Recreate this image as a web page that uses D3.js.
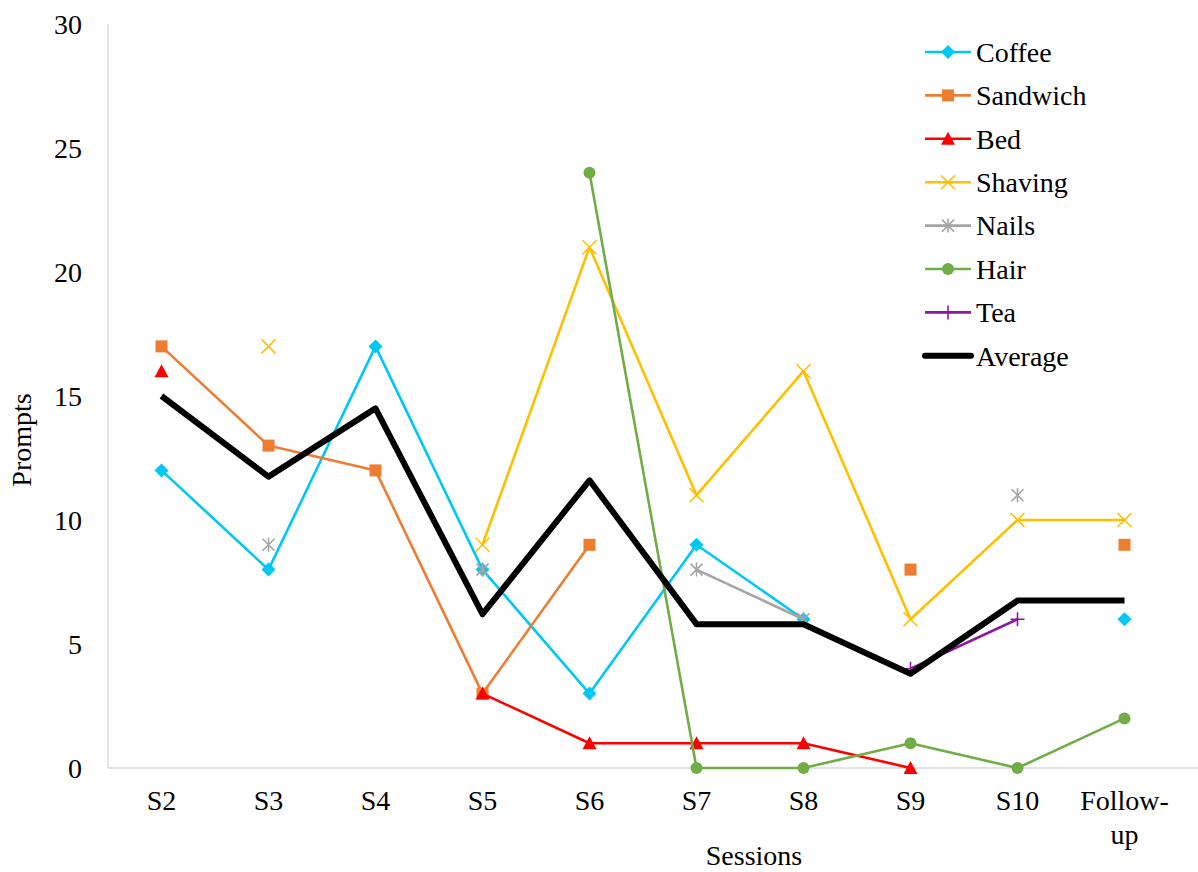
<!DOCTYPE html>
<html>
<head>
<meta charset="utf-8">
<script src="https://cdn.jsdelivr.net/npm/d3@7"></script>
</head>
<body style="margin:0; background:#fff">
<svg id="chart" width="1198" height="872" style="display:block"></svg>
<script>
// Sessions on the x axis
const sessions = ["S2", "S3", "S4", "S5", "S6", "S7", "S8", "S9", "S10", "Follow-up"];

// Prompts per task (null = task not run in that session)
const coffee   = [12, 8, 17, 8, 3, 9, 6, null, null, 6];
const sandwich = [17, 13, 12, 3, 9, null, null, 8, null, 9];
const bed      = [16, null, null, 3, 1, 1, 1, 0, null, null];
const shaving  = [null, 17, null, 9, 21, 11, 16, 6, 10, 10];
const nails    = [null, 9, null, 8, null, 8, 6, null, 11, null];
const hair     = [null, null, null, null, 24, 0, 0, 1, 0, 2];
const tea      = [null, null, null, null, null, null, null, 4, 6, null];
const average  = [15, 11.75, 14.5, 6.2, 11.6, 5.8, 5.8, 3.8, 6.75, 6.75];

const yTicks = [0, 5, 10, 15, 20, 25, 30];

const series = [
  { name: "Coffee",   values: coffee,   color: "#00C8F5", marker: "diamond" },
  { name: "Sandwich", values: sandwich, color: "#ED7D31", marker: "square" },
  { name: "Bed",      values: bed,      color: "#FF0000", marker: "triangle" },
  { name: "Shaving",  values: shaving,  color: "#FFC000", marker: "x" },
  { name: "Nails",    values: nails,    color: "#A5A5A5", marker: "star" },
  { name: "Hair",     values: hair,     color: "#70AD47", marker: "circle" },
  { name: "Tea",      values: tea,      color: "#8B1A9E", marker: "plus" },
  { name: "Average",  values: average,  color: "#000000", marker: "none", width: 6 }
];

const FONT = '"Liberation Serif", monospace';
const fs = 28;

const svg = d3.select("#chart");
const plotLeft = 108, plotRight = 1178, plotTop = 24, plotBottom = 768;

const x = d3.scaleBand().domain(sessions).range([plotLeft, plotRight]);
const cx = s => x(s) + x.bandwidth() / 2;
const y = d3.scaleLinear().domain([0, 30]).range([plotBottom, plotTop]);

function label(sel) {
  return sel.style("font-family", FONT, "important").attr("font-size", fs).attr("fill", "#000");
}

// axis lines
svg.append("line").attr("x1", plotLeft).attr("x2", plotLeft).attr("y1", plotTop).attr("y2", plotBottom)
  .attr("stroke", "#d9d9d9").attr("stroke-width", 1.3);
svg.append("line").attr("x1", plotLeft).attr("x2", 1198).attr("y1", plotBottom).attr("y2", plotBottom)
  .attr("stroke", "#d9d9d9").attr("stroke-width", 1.3);

// y tick labels
svg.append("g").selectAll("text").data(yTicks).join("text")
  .attr("x", 82).attr("y", d => y(d)).attr("dy", "0.35em")
  .attr("text-anchor", "end").call(label).text(d => d);

// x tick labels
const xl = svg.append("g");
sessions.forEach(s => {
  if (s === "Follow-up") {
    const t = xl.append("text").attr("x", cx(s)).attr("y", 810)
      .attr("text-anchor", "middle").call(label);
    t.append("tspan").attr("x", cx(s)).text("Follow-");
    t.append("tspan").attr("x", cx(s)).attr("dy", 34).text("up");
  } else {
    xl.append("text").attr("x", cx(s)).attr("y", 810)
      .attr("text-anchor", "middle").call(label).text(s);
  }
});

// axis titles
svg.append("text").attr("x", 754).attr("y", 865).attr("text-anchor", "middle")
  .call(label).text("Sessions");
svg.append("text").attr("transform", "translate(31,440) rotate(-90)")
  .attr("text-anchor", "middle").call(label).text("Prompts");

// marker shapes
function drawMarker(g, type, px, py, color) {
  switch (type) {
    case "diamond":
      g.append("path").attr("d", `M${px},${py-7}L${px+7},${py}L${px},${py+7}L${px-7},${py}Z`).attr("fill", color);
      break;
    case "square":
      g.append("rect").attr("x", px-6).attr("y", py-6).attr("width", 12).attr("height", 12).attr("fill", color);
      break;
    case "triangle":
      g.append("path").attr("d", `M${px},${py-7}L${px+7},${py+6}L${px-7},${py+6}Z`).attr("fill", color);
      break;
    case "circle":
      g.append("circle").attr("cx", px).attr("cy", py).attr("r", 6).attr("fill", color);
      break;
    case "x":
      g.append("path").attr("d", `M${px-7},${py-7}L${px+7},${py+7}M${px+7},${py-7}L${px-7},${py+7}`)
        .attr("stroke", color).attr("stroke-width", 1.6).attr("fill", "none");
      break;
    case "star":
      g.append("path").attr("d", `M${px-6},${py-6}L${px+6},${py+6}M${px+6},${py-6}L${px-6},${py+6}M${px},${py-7}L${px},${py+7}`)
        .attr("stroke", color).attr("stroke-width", 1.6).attr("fill", "none");
      break;
    case "plus":
      g.append("path").attr("d", `M${px-7},${py}L${px+7},${py}M${px},${py-7}L${px},${py+7}`)
        .attr("stroke", color).attr("stroke-width", 1.6).attr("fill", "none");
      break;
  }
}

const line = d3.line()
  .defined(d => d.v !== null)
  .x(d => cx(d.s)).y(d => y(d.v));

const plot = svg.append("g");
series.forEach(sr => {
  const pts = sessions.map((s, i) => ({ s, v: sr.values[i] }));
  plot.append("path").datum(pts).attr("d", line)
    .attr("fill", "none").attr("stroke", sr.color)
    .attr("stroke-width", sr.width || 2.6).attr("stroke-linejoin", "round");
  const mg = plot.append("g");
  pts.filter(d => d.v !== null).forEach(d => drawMarker(mg, sr.marker, cx(d.s), y(d.v), sr.color));
});

// legend
const lg = svg.append("g");
series.forEach((sr, i) => {
  const ly = 52 + i * 43.4;
  lg.append("line").attr("x1", 925).attr("x2", 971).attr("y1", ly).attr("y2", ly)
    .attr("stroke", sr.color).attr("stroke-width", sr.width || 2.6).attr("stroke-linecap", sr.width ? "round" : "butt");
  drawMarker(lg, sr.marker, 948, ly, sr.color);
  lg.append("text").attr("x", 976).attr("y", ly).attr("dy", "0.35em")
    .call(label).text(sr.name);
});
</script>
</body>
</html>
